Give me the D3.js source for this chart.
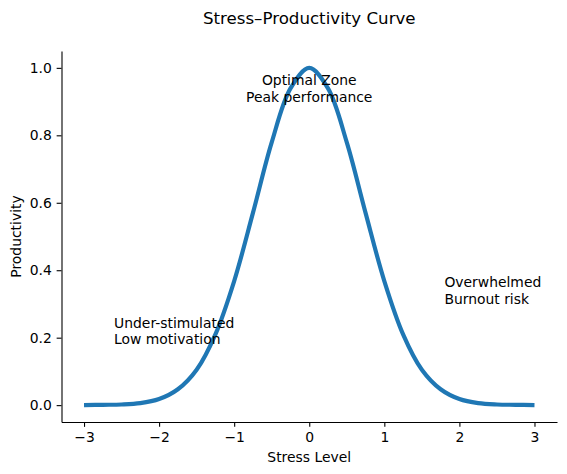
<!DOCTYPE html>
<html>
<head>
<meta charset="utf-8">
<script src="https://cdn.jsdelivr.net/npm/d3@7"></script>
<style>
  body { margin: 0; background: #fff; }
  text { font-family: "DejaVu Sans", sans-serif; }
</style>
</head>
<body>
<div id="chart"></div>
<script>
// stress level (x) and productivity (y)
var stressLevels = [-3, -2.75, -2.5, -2.25, -2, -1.75, -1.5, -1.25, -1, -0.75, -0.5, -0.25,
                    0, 0.25, 0.5, 0.75, 1, 1.25, 1.5, 1.75, 2, 2.25, 2.5, 2.75, 3];
var productivity = [0.000, 0.001, 0.002, 0.006, 0.018, 0.047, 0.105, 0.210, 0.368, 0.570, 0.779, 0.939,
                    1.000, 0.939, 0.779, 0.570, 0.368, 0.210, 0.105, 0.047, 0.018, 0.006, 0.002, 0.001, 0.000];
var xTicks = [-3, -2, -1, 0, 1, 2, 3];
var yTicks = [0, 0.2, 0.4, 0.6, 0.8, 1.0];

// annotations: x, y of last baseline, lines
var notes = [
  {x: 0, y: 0.9, anchor: "middle", lines: ["Optimal Zone", "Peak performance"]},
  {x: -2.6, y: 0.18, anchor: "start", lines: ["Under-stimulated", "Low motivation"]},
  {x: 1.8, y: 0.3, anchor: "start", lines: ["Overwhelmed", "Burnout risk"]}
];

var W = 567, H = 474;
var margin = {top: 51, right: 10, bottom: 52, left: 61.5};
var width = W - margin.left - margin.right,
    height = H - margin.top - margin.bottom;

var svg = d3.select("#chart").append("svg")
    .attr("width", W)
    .attr("height", H);

var g = svg.append("g")
    .attr("transform", "translate(" + margin.left + "," + margin.top + ")");

var x = d3.scaleLinear().domain([-3.3, 3.3]).range([0, width]);
var y = d3.scaleLinear().domain([-0.05, 1.05]).range([height, 0]);

var tickLen = 4.86, fontSize = 13.9;

var xAxis = g.append("g")
    .attr("transform", "translate(0," + height + ")")
    .call(d3.axisBottom(x).tickValues(xTicks).tickFormat(d3.format("d"))
      .tickSize(tickLen).tickPadding(4.9).tickSizeOuter(0));

var yAxis = g.append("g")
    .call(d3.axisLeft(y).tickValues(yTicks).tickFormat(d3.format(".1f"))
      .tickSize(tickLen).tickPadding(4.9).tickSizeOuter(0));

[xAxis, yAxis].forEach(function(a) {
  a.selectAll("text").style("font-size", fontSize + "px").attr("fill", "#000")
    .style("font-family", "DejaVu Sans");
  a.selectAll("line").attr("stroke", "#000").attr("stroke-width", 1.1);
  a.select(".domain").attr("stroke", "#000").attr("stroke-width", 1.1);
});

// the curve
var pts = stressLevels.map(function(s, i) { return [s, productivity[i]]; });
var line = d3.line()
    .x(d => x(d[0]))
    .y(d => y(d[1]))
    .curve(d3.curveCatmullRom.alpha(0.5));

g.append("path")
    .datum(pts)
    .attr("d", line)
    .attr("fill", "none")
    .attr("stroke", "#1f77b4")
    .attr("stroke-width", 4.17)
    .attr("stroke-linecap", "butt")
    .attr("stroke-linejoin", "round");

// annotations (drawn over the line)
var lineGap = fontSize * 1.2;
notes.forEach(function(n) {
  var t = g.append("text")
      .attr("text-anchor", n.anchor)
      .style("font-size", fontSize + "px")
      .attr("fill", "#000");
  n.lines.forEach(function(l, i) {
    t.append("tspan")
      .attr("x", x(n.x))
      .attr("y", y(n.y) - (n.lines.length - 1 - i) * lineGap)
      .text(l);
  });
});

// title and axis labels
svg.append("text")
    .attr("x", margin.left + x(0))
    .attr("y", 24)
    .attr("text-anchor", "middle")
    .style("font-size", "16.67px")
    .text("Stress–Productivity Curve");

svg.append("text")
    .attr("x", margin.left + x(0))
    .attr("y", 461.5)
    .attr("text-anchor", "middle")
    .style("font-size", fontSize + "px")
    .text("Stress Level");

svg.append("text")
    .attr("transform", "translate(21," + (margin.top + height / 2) + ") rotate(-90)")
    .attr("text-anchor", "middle")
    .style("font-size", fontSize + "px")
    .text("Productivity");
</script>
</body>
</html>
